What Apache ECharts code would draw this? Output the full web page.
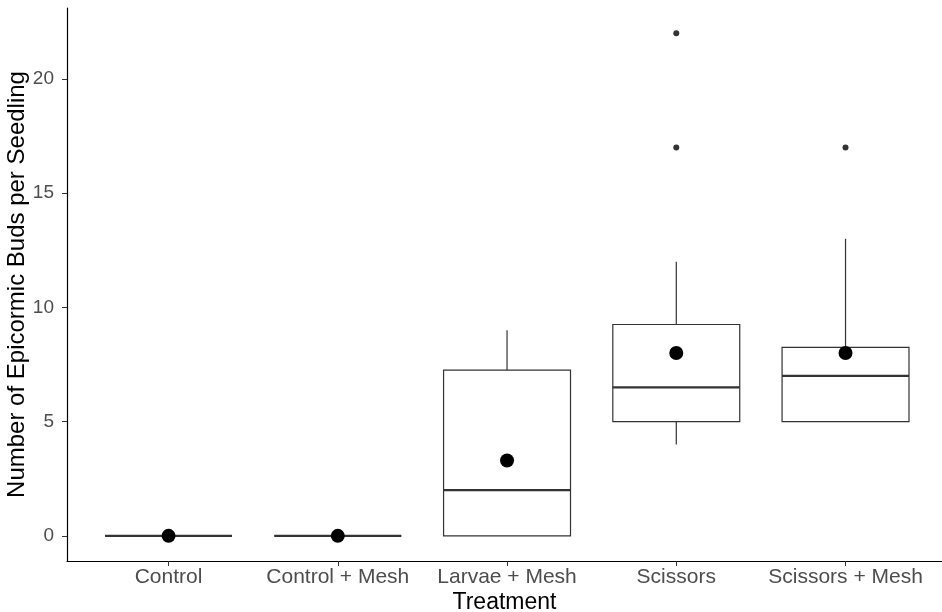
<!DOCTYPE html>
<html>
<head>
<meta charset="utf-8">
<script src="https://cdn.jsdelivr.net/npm/echarts@6/dist/echarts.min.js"></script>
<style>
  html, body { margin: 0; padding: 0; background: #fff; }
  #chart { width: 942px; height: 612px; }
</style>
</head>
<body>
<div id="chart"></div>
<script>
// categories on the x axis
const treatments = ['Control', 'Control + Mesh', 'Larvae + Mesh', 'Scissors', 'Scissors + Mesh']
// box stats: lower whisker, Q1, median, Q3, upper whisker
const lowerWhisker = [0, 0, 0, 4, 5]
const q1 = [0, 0, 0, 5, 5]
const median = [0, 0, 2, 6.5, 7]
const q3 = [0, 0, 7.25, 9.25, 8.25]
const upperWhisker = [0, 0, 9, 12, 13]
// mean of each treatment (big dots)
const means = [0, 0, 3.3, 8, 8]
// outliers: [treatment index, value]
const outliers = [[3, 17], [3, 22], [4, 17]]
const yTicks = [0, 5, 10, 15, 20]

const chart = echarts.init(document.getElementById('chart'))

// x positions are 1..5 like ggplot's discrete scale
let boxData = treatments.map((t, i) => [i + 1, lowerWhisker[i], q1[i], median[i], q3[i], upperWhisker[i]])

function renderBox(params, api) {
  let x = api.value(0)
  let lo = api.coord([x, api.value(1)])
  let b1 = api.coord([x, api.value(2)])
  let md = api.coord([x, api.value(3)])
  let b3 = api.coord([x, api.value(4)])
  let hi = api.coord([x, api.value(5)])
  let w = api.size([0.75, 0])[0]
  let cx = lo[0]
  let stroke = { stroke: '#333', lineWidth: 1.2 }
  let children = []
  if (api.value(5) > api.value(4)) {
    children.push({ type: 'line', shape: { x1: cx, y1: b3[1], x2: cx, y2: hi[1] }, style: stroke })
  }
  if (api.value(1) < api.value(2)) {
    children.push({ type: 'line', shape: { x1: cx, y1: lo[1], x2: cx, y2: b1[1] }, style: stroke })
  }
  children.push({
    type: 'rect',
    shape: { x: cx - w / 2, y: b3[1], width: w, height: b1[1] - b3[1] },
    style: { fill: '#fff', stroke: '#333', lineWidth: 1.2 }
  })
  children.push({
    type: 'line',
    shape: { x1: cx - w / 2, y1: md[1], x2: cx + w / 2, y2: md[1] },
    style: { stroke: '#333', lineWidth: 2.2 }
  })
  return { type: 'group', children: children }
}

let option = {
  backgroundColor: '#fff',
  animation: false,
  grid: { left: 67, right: 0, top: 8, bottom: 51, outerBoundsMode: 'none', containLabel: false },
  xAxis: {
    type: 'value',
    min: 0.4,
    max: 5.57,
    name: 'Treatment',
    nameLocation: 'middle',
    nameGap: 30,
    nameMoveOverlap: false,
    nameTextStyle: { color: '#000', fontSize: 23, fontFamily: 'Liberation Sans' },
    splitLine: { show: false },
    axisLine: { show: true, onZero: false, lineStyle: { color: '#000', width: 1.2 } },
    axisTick: { show: true, length: 5, customValues: [1, 2, 3, 4, 5], lineStyle: { color: '#333' } },
    axisLabel: {
      customValues: [1, 2, 3, 4, 5],
      color: '#4D4D4D',
      fontSize: 21,
      fontFamily: 'Liberation Sans',
      margin: 6,
      formatter: (v) => treatments[Math.round(v) - 1] || ''
    }
  },
  yAxis: {
    type: 'value',
    min: -1.1,
    max: 23.1,
    name: 'Number of Epicormic Buds per Seedling',
    nameLocation: 'middle',
    nameGap: 38,
    nameMoveOverlap: false,
    nameTextStyle: { color: '#000', fontSize: 24, fontFamily: 'Liberation Sans' },
    splitLine: { show: false },
    axisLine: { show: true, onZero: false, lineStyle: { color: '#000', width: 1.2 } },
    axisTick: { show: true, length: 5, customValues: yTicks, lineStyle: { color: '#333' } },
    axisLabel: {
      customValues: yTicks,
      color: '#4D4D4D',
      fontSize: 19,
      fontFamily: 'Liberation Sans',
      margin: 13
    }
  },
  series: [
    {
      type: 'custom',
      renderItem: renderBox,
      data: boxData,
      encode: { x: 0, y: [1, 2, 3, 4, 5] },
      z: 2
    },
    {
      type: 'scatter',
      data: outliers.map(o => [o[0] + 1, o[1]]),
      symbolSize: 6,
      itemStyle: { color: '#333', opacity: 1 },
      z: 3
    },
    {
      type: 'scatter',
      data: means.map((m, i) => [i + 1, m]),
      symbolSize: 14,
      itemStyle: { color: '#000', opacity: 1 },
      z: 4
    }
  ]
}

chart.setOption(option)
window.addEventListener('resize', () => {
  chart.resize()
})
</script>
</body>
</html>
